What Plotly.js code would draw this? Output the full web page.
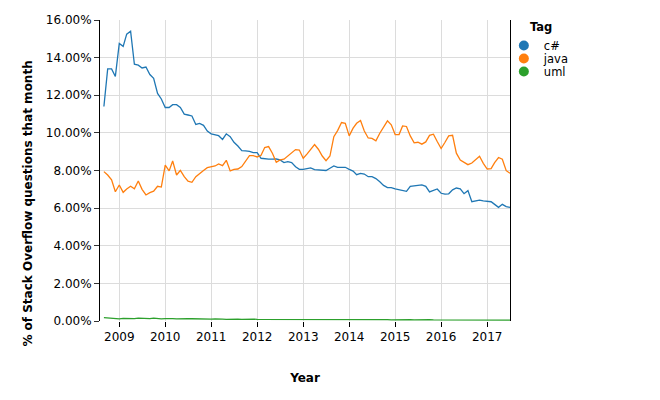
<!DOCTYPE html>
<html><head><meta charset="utf-8">
<script src="https://cdn.plot.ly/plotly-3.0.1.min.js"></script>
<style>html,body{margin:0;padding:0;background:#fff}#chart{width:660px;height:400px}</style>
</head><body><div id="chart"></div>
<script>
// Monthly share of Stack Overflow questions (%), Sep 2008 .. Jul 2017
const firstMonth = '2008-09';
const tags = ['c#', 'java', 'uml'];
const colors = ['#1f77b4', '#ff7f0e', '#2ca02c'];

const csharp = [
  11.4, 13.4, 13.4, 13.0,
  14.75, 14.6, 15.25, 15.4, 13.65, 13.6, 13.45, 13.5, 13.1, 12.9, 12.1, 11.8,
  11.35, 11.35, 11.5, 11.5, 11.35, 11.0, 10.95, 10.9, 10.45, 10.5, 10.4, 10.1,
  9.95, 9.9, 9.85, 9.65, 9.95, 9.8, 9.5, 9.3, 9.06, 9.04, 9.02, 8.95,
  8.95, 8.65, 8.61, 8.6, 8.6, 8.61, 8.56, 8.42, 8.47, 8.42, 8.2, 8.06,
  8.06, 8.1, 8.14, 8.05, 8.03, 8.01, 8.0, 8.12, 8.24, 8.17, 8.19, 8.17,
  8.06, 7.97, 7.78, 7.85, 7.81, 7.67, 7.67, 7.57, 7.4, 7.21, 7.09, 7.09,
  7.02, 6.98, 6.93, 6.89, 7.16, 7.17, 7.21, 7.24, 7.16, 6.86, 6.94, 7.02,
  6.79, 6.74, 6.76, 6.97, 7.07, 7.02, 6.77, 6.93, 6.34, 6.39, 6.43, 6.39,
  6.38, 6.34, 6.2, 6.04, 6.2, 6.08, 6.04
];
const java = [
  7.94, 7.76, 7.5, 6.87,
  7.23, 6.84, 7.02, 7.16, 7.03, 7.44, 7.0, 6.7, 6.82, 6.9, 7.16, 7.12,
  8.28, 7.98, 8.51, 7.76, 8.01, 7.67, 7.43, 7.37, 7.67, 7.85, 8.0, 8.15,
  8.2, 8.24, 8.35, 8.26, 8.54, 7.98, 8.06, 8.08, 8.21, 8.47, 8.79, 8.79,
  8.72, 8.81, 9.22, 9.27, 8.92, 8.44, 8.56, 8.6, 8.76, 8.95, 9.11, 9.09,
  8.65, 8.88, 9.09, 9.38, 9.13, 8.77, 8.52, 8.77, 9.8, 10.12, 10.55, 10.51,
  9.84, 10.25, 10.51, 10.66, 10.1, 9.73, 9.71, 9.58, 9.98, 10.34, 10.64, 10.43,
  9.91, 9.91, 10.37, 10.34, 9.84, 9.47, 9.5, 9.4, 9.52, 9.87, 9.93, 9.54,
  9.17, 9.5, 9.84, 9.87, 8.92, 8.56, 8.42, 8.31, 8.4, 8.56, 8.76, 8.38,
  8.08, 8.1, 8.42, 8.69, 8.6, 7.99, 7.85
];
const uml = [
  0.18, 0.16, 0.14, 0.12,
  0.11, 0.14, 0.13, 0.12, 0.13, 0.15, 0.14, 0.12, 0.13, 0.15, 0.12, 0.11,
  0.13, 0.15, 0.13, 0.11, 0.12, 0.14, 0.12, 0.12, 0.11, 0.10, 0.12, 0.11,
  0.10, 0.11, 0.12, 0.10, 0.09, 0.10, 0.11, 0.10, 0.09, 0.10, 0.09, 0.10,
  0.09, 0.09, 0.10, 0.09, 0.08, 0.09, 0.10, 0.09, 0.08, 0.09, 0.08, 0.09,
  0.09, 0.08, 0.08, 0.09, 0.08, 0.08, 0.07, 0.08, 0.09, 0.08, 0.08, 0.08,
  0.09, 0.11, 0.08, 0.07, 0.07, 0.08, 0.07, 0.07, 0.08, 0.07, 0.07, 0.06,
  0.07, 0.08, 0.07, 0.06, 0.07, 0.06, 0.07, 0.06, 0.06, 0.07, 0.06, 0.06,
  0.07, 0.06, 0.05, 0.06, 0.06, 0.05, 0.06, 0.06, 0.05, 0.05, 0.06, 0.05,
  0.05, 0.05, 0.06, 0.05, 0.05, 0.05, 0.05
];
const yearTicks = ['2009', '2010', '2011', '2012', '2013', '2014', '2015', '2016', '2017'];
const yTicks = [0, 2, 4, 6, 8, 10, 12, 14, 16];

// month labels for the x axis (one per data point)
function months(n) {
  let [y, m] = firstMonth.split('-').map(Number);
  const out = [];
  for (let i = 0; i < n; i++) {
    out.push(y + '-' + String(m).padStart(2, '0') + '-01');
    m++; if (m > 12) { m = 1; y++; }
  }
  return out;
}

const series = [csharp, java, uml];
const FONT = 'DejaVu Sans, sans-serif';
const traces = [];
series.forEach((vals, i) => {
  traces.push({
    type: 'scatter', mode: 'lines', x: months(vals.length), y: vals,
    line: {color: colors[i], width: 1.3}, showlegend: false, hoverinfo: 'skip'
  });
});
// legend entries (circle symbols like the reference), one small legend per tag
const legendNames = ['legend', 'legend2', 'legend3'];
const legendY = [0.915, 0.872, 0.829];
tags.forEach((t, i) => {
  traces.push({
    type: 'scatter', mode: 'markers', x: [null], y: [null], name: t,
    legend: legendNames[i],
    marker: {color: colors[i], size: 10, symbol: 'circle'}, showlegend: true
  });
});

function legendBox(i) {
  return {
    x: 0.985, y: legendY[i], xanchor: 'left', yanchor: 'middle',
    font: {family: FONT, size: 11.5, color: '#000'},
    itemwidth: 30, bgcolor: 'rgba(0,0,0,0)', borderwidth: 0
  };
}

const layout = {
  width: 660, height: 400,
  margin: {l: 100, r: 150, t: 20, b: 79, pad: 0},
  paper_bgcolor: '#fff', plot_bgcolor: '#fff',
  font: {family: FONT, color: '#000', size: 12},
  xaxis: {
    type: 'date', range: ['2008-08-01', '2017-07-01'],
    tickvals: yearTicks.map(y => y + '-01-01'), ticktext: yearTicks,
    showgrid: true, gridcolor: '#dcdcdc', gridwidth: 1,
    ticks: 'outside', ticklen: 5, tickcolor: '#000', tickwidth: 1,
    showline: false, zeroline: false,
    tickfont: {family: FONT, size: 12, color: '#000'},
    title: {text: 'Year', font: {family: FONT, size: 12, color: '#000', weight: 'bold'}, standoff: 30}
  },
  yaxis: {
    range: [0, 16], tickvals: yTicks, ticktext: yTicks.map(v => v.toFixed(2) + '%'),
    showgrid: true, gridcolor: '#dcdcdc', gridwidth: 1,
    ticks: 'outside', ticklen: 5, tickcolor: '#333', tickwidth: 1,
    showline: true, linecolor: '#000', linewidth: 1, mirror: true, zeroline: false,
    tickfont: {family: FONT, size: 12, color: '#000'}
  },
  legend: legendBox(0), legend2: legendBox(1), legend3: legendBox(2),
  annotations: [
    {text: '% of Stack Overflow questions that month', textangle: -90,
     xref: 'paper', yref: 'paper', x: -0.1756, y: 0.39, xanchor: 'center', yanchor: 'middle',
     showarrow: false, font: {family: FONT, size: 12, color: '#000', weight: 'bold'}},
    {text: 'Tag', xref: 'paper', yref: 'paper', x: 1.043, y: 0.978, xanchor: 'left', yanchor: 'middle',
     showarrow: false, font: {family: FONT, size: 11.5, color: '#000', weight: 'bold'}}
  ],
  showlegend: true
};

Plotly.newPlot('chart', traces, layout, {displayModeBar: false, staticPlot: true});
</script>
</body></html>
